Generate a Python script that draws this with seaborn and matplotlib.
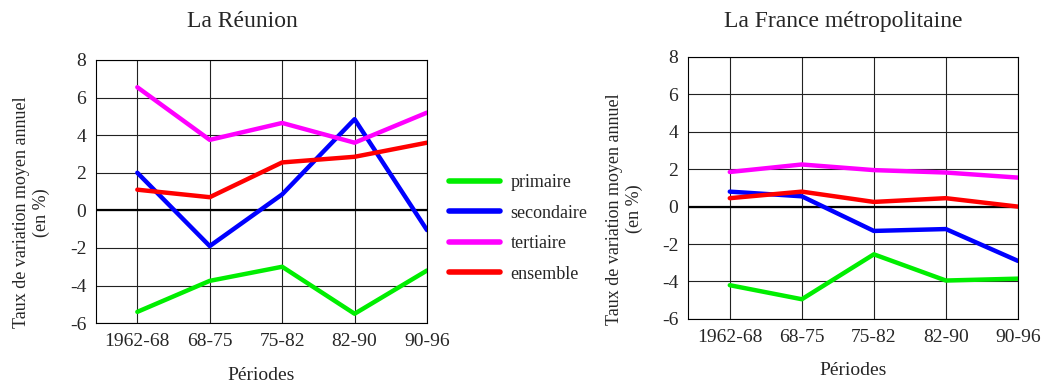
import numpy as np
import pandas as pd
import matplotlib
matplotlib.use("Agg")
import matplotlib.pyplot as plt
import seaborn as sns

# ================================
# DATA
# ================================
periodes = ['1962-68', '68-75', '75-82', '82-90', '90-96']
secteurs = ['primaire', 'secondaire', 'tertiaire', 'ensemble']

reunion_primaire = [-5.4, -3.75, -3.0, -5.5, -3.2]
reunion_secondaire = [2.0, -1.9, 0.85, 4.85, -1.05]
reunion_tertiaire = [6.55, 3.75, 4.65, 3.6, 5.2]
reunion_ensemble = [1.1, 0.7, 2.55, 2.85, 3.6]

france_primaire = [-4.2, -4.95, -2.55, -3.95, -3.85]
france_secondaire = [0.8, 0.55, -1.3, -1.2, -2.9]
france_tertiaire = [1.85, 2.25, 1.95, 1.82, 1.55]
france_ensemble = [0.45, 0.8, 0.25, 0.45, 0.0]

colors = {'primaire': '#00ee00', 'secondaire': '#0000ff',
          'tertiaire': '#ff00ff', 'ensemble': '#ff0000'}
yticks = [-6, -4, -2, 0, 2, 4, 6, 8]


def make_df(prim, sec, tert, ens):
    rows = []
    for s, vals in zip(secteurs, [prim, sec, tert, ens]):
        for p, v in zip(periodes, vals):
            rows.append({'periode': p, 'secteur': s, 'valeur': v})
    return pd.DataFrame(rows)


df_reunion = make_df(reunion_primaire, reunion_secondaire, reunion_tertiaire, reunion_ensemble)
df_france = make_df(france_primaire, france_secondaire, france_tertiaire, france_ensemble)

sns.set_style("white")
plt.rcParams['font.family'] = ['Liberation Serif', 'DejaVu Serif']

fig = plt.figure(figsize=(10.44, 3.87), dpi=100)
ax1 = fig.add_axes([0.092, 0.165, 0.317, 0.68])
ax2 = fig.add_axes([0.659, 0.176, 0.316, 0.677])


def draw(ax, df, xleft, ylab_x):
    sns.lineplot(data=df, x='periode', y='valeur', hue='secteur', hue_order=secteurs,
                 palette=colors, linewidth=3.2, sort=False, ax=ax, legend=True)
    ax.set_xlim(xleft, len(periodes) - 1)
    ax.set_ylim(-6, 8)
    ax.set_yticks(yticks)
    ax.set_yticklabels([str(t) for t in yticks], fontsize=14)
    ax.set_xticks(range(len(periodes)))
    ax.set_xticklabels(periodes, fontsize=14)
    ax.grid(True, color='#222222', linewidth=0.8)
    ax.set_axisbelow(True)
    ax.axhline(0, color='black', linewidth=1.6, zorder=1.5)
    for sp in ax.spines.values():
        sp.set_color('black')
        sp.set_linewidth(0.8)
    ax.tick_params(axis='both', length=4, width=0.8, color='black', pad=3)
    ax.set_xlabel('Périodes', fontsize=14, labelpad=12)
    ax.set_ylabel('Taux de variation moyen annuel\n(en %)', fontsize=13,
                  linespacing=1.2)
    ax.yaxis.set_label_coords(ylab_x, 0.42)
    ax.get_legend().remove()


draw(ax1, df_reunion, -0.57, -0.14)
draw(ax2, df_france, -0.58, -0.135)

fig.text(0.232, 0.945, 'La Réunion', ha='center', va='center', fontsize=17)
fig.text(0.808, 0.945, 'La France métropolitaine', ha='center', va='center', fontsize=17)

handles = [plt.Line2D([0], [0], color=colors[s], linewidth=4) for s in secteurs]
fig.legend(handles, secteurs, loc='center left', bbox_to_anchor=(0.418, 0.41),
           frameon=False, fontsize=13, handlelength=2.8, handletextpad=0.6,
           labelspacing=0.75, borderpad=0.2)

fig.savefig('out.png', dpi=100)
